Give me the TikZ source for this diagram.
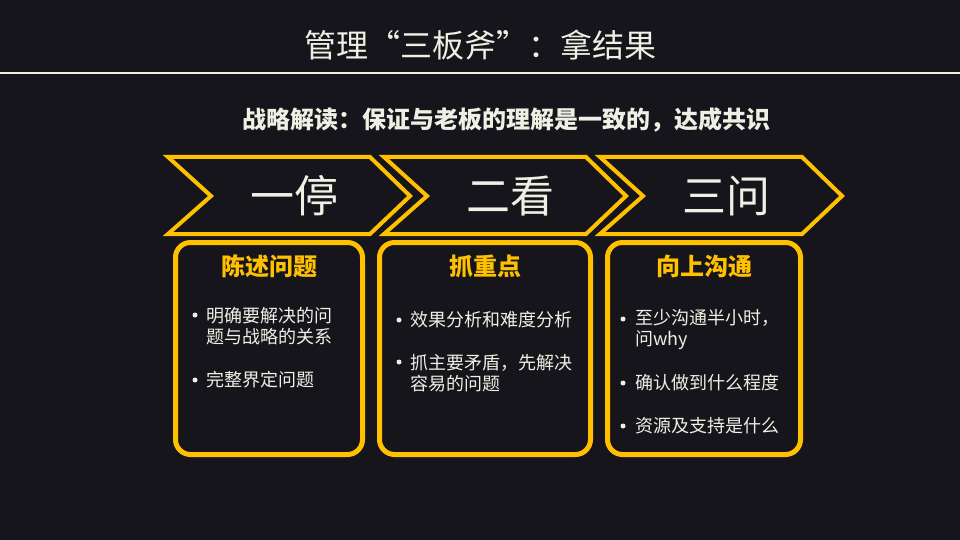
\documentclass[tikz,border=0pt]{standalone}
\usepackage{fontspec}
\setmainfont{Noto Sans CJK SC}
\usepackage{tikz}
\usetikzlibrary{positioning}
\definecolor{bgdark}{HTML}{15151B}
\definecolor{chalk}{HTML}{EEF0E4}
\definecolor{amber}{HTML}{FFC000}

\begin{document}
\begin{tikzpicture}[x=1pt,y=-1pt]
	\def \chevtop{157}
	\def \chevmid{196}
	\def \chevbot{234}
	\def \headht{266}
	\tikzstyle{chev}=[draw=amber,line width=4pt,line join=miter]
	\tikzstyle{card}=[draw=amber,line width=5pt,rounded corners=15pt,minimum height=212pt,inner sep=0pt]
	\tikzstyle{big}=[text=chalk,inner sep=0pt,font=\fontsize{44}{44}\selectfont]
	\tikzstyle{head}=[text=amber,inner sep=0pt,font=\bfseries\fontsize{24}{24}\selectfont]
	\tikzstyle{item}=[text=chalk,anchor=west,align=left,inner sep=0pt,font=\fontsize{18}{21.5}\selectfont]
	\tikzstyle{dot}=[circle,fill=chalk,inner sep=0pt,minimum size=5pt]

	\fill[bgdark] (0,0) rectangle (960,540);
	\useasboundingbox (0,0) rectangle (960,540);

	% title
	\node[text=chalk,inner sep=0pt,font=\fontsize{32}{32}\selectfont] (title) at (480,45) {管理“三板斧”：拿结果};
	\draw[chalk,line width=2pt] (0,73) -- (960,73);
	\node[text=chalk,inner sep=0pt,font=\bfseries\fontsize{24}{24}\selectfont] (subtitle) at (506,120) {战略解读：保证与老板的理解是一致的，达成共识};

	% chevrons
	\draw[chev] (168,\chevtop) -- (370,\chevtop) -- (410,\chevmid) -- (370,\chevbot) -- (168,\chevbot) -- (211,\chevmid) -- cycle;
	\draw[chev] (384,\chevtop) -- (586,\chevtop) -- (626,\chevmid) -- (586,\chevbot) -- (384,\chevbot) -- (427,\chevmid) -- cycle;
	\draw[chev] (600,\chevtop) -- (802,\chevtop) -- (842,\chevmid) -- (802,\chevbot) -- (600,\chevbot) -- (643,\chevmid) -- cycle;
	\node[big] (stop) at (294,\chevmid) {一停};
	\node[big] (look) at (510,\chevmid) {二看};
	\node[big] (ask)  at (726,\chevmid) {三问};

	% cards
	\node[card,minimum width=187pt] (describe) at (269,348.5) {};
	\node[card,minimum width=211pt] (focus)    at (485,348.5) {};
	\node[card,minimum width=193pt] (upward)   at (704,348.5) {};
	\node[head] (h-describe) at (269,\headht) {陈述问题};
	\node[head] (h-focus)    at (485,\headht) {抓重点};
	\node[head] (h-upward)   at (704,\headht) {向上沟通};

	% first card
	\node[item] (d1) at (206,326) {明确要解决的问\\题与战略的关系};
	\node[item] (d2) at (206,380) {完整界定问题};
	\node[dot] (d1-dot) at (195,315) {};
	\node[dot] (d2-dot) at (195,380) {};

	% second card
	\node[item] (f1) at (410,320) {效果分析和难度分析};
	\node[item] (f2) at (410,373) {抓主要矛盾，先解决\\容易的问题};
	\node[dot] (f1-dot) at (399,320) {};
	\node[dot] (f2-dot) at (399,362) {};

	% third card
	\node[item] (u1) at (635,329.5) {至少沟通半小时，\\问why};
	\node[item] (u2) at (635,383) {确认做到什么程度};
	\node[item] (u3) at (635,426) {资源及支持是什么};
	\node[dot] (u1-dot) at (623,319) {};
	\node[dot] (u2-dot) at (623,383) {};
	\node[dot] (u3-dot) at (623,426) {};
\end{tikzpicture}
\end{document}
